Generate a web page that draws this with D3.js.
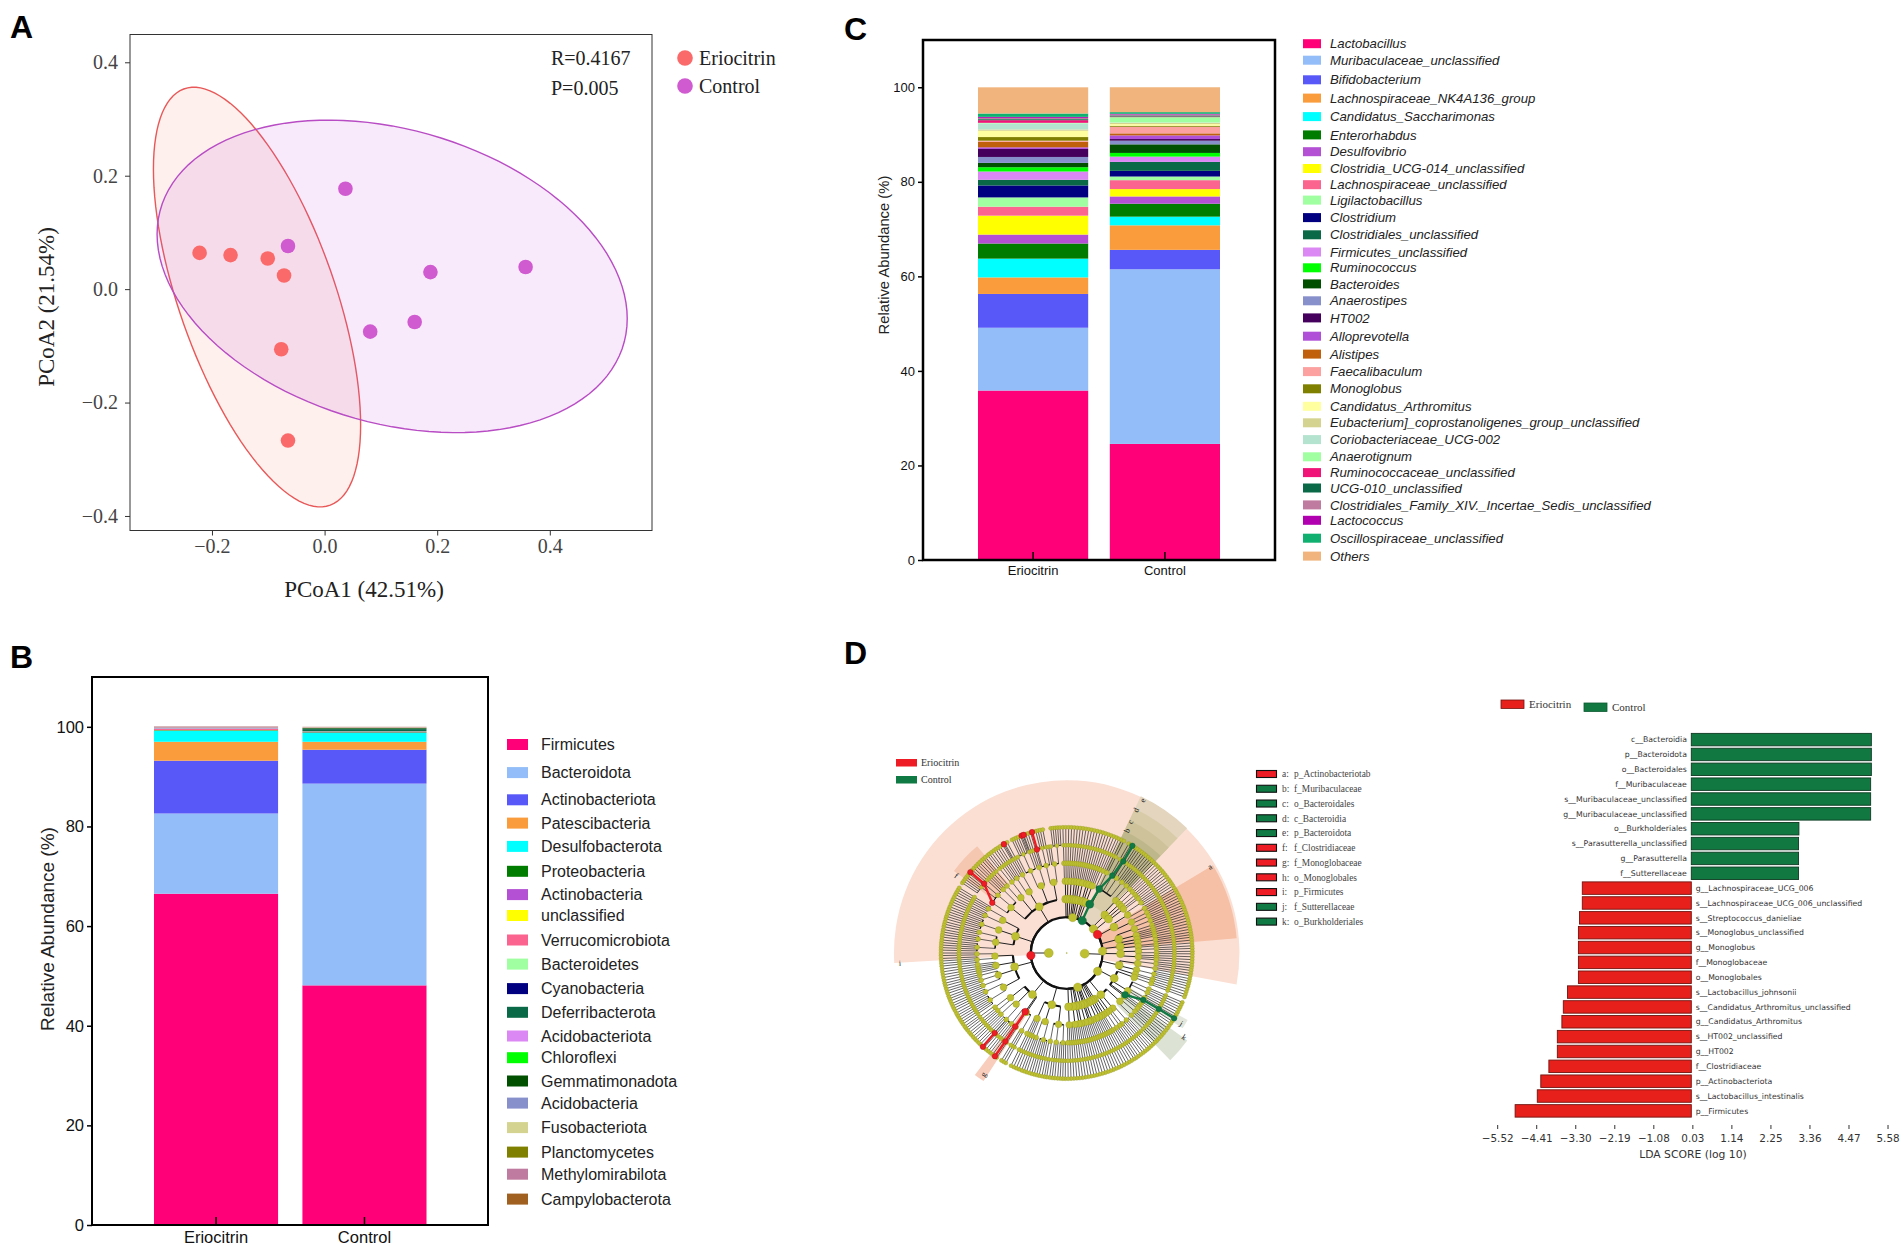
<!DOCTYPE html>
<html>
<head>
<meta charset="utf-8">
<script src="https://cdn.jsdelivr.net/npm/d3@7/dist/d3.min.js"></script>
<style>
html,body{margin:0;padding:0;background:#fff}
svg{display:block}
</style>
</head>
<body>
<svg id="fig" width="1904" height="1246"></svg>
<script>
// ---------- Panel A data ----------
const pcoaGroups = ["Eriocitrin", "Control"];
const eriocitrinPoints = [[-0.222,0.064],[-0.167,0.060],[-0.101,0.054],[-0.072,0.024],[-0.077,-0.106],[-0.065,-0.267]];
const controlPoints = [[0.037,0.177],[-0.065,0.076],[0.188,0.030],[0.357,0.039],[0.160,-0.058],[0.081,-0.075]];
// centre x, centre y, half width, half height, correlation
const eriocitrinEllipse = [-0.120,-0.014,0.184,0.370,-0.61];
const controlEllipse = [0.120,0.0225,0.4175,0.2755,-0.27];
const pcoaTicks = [-0.4,-0.2,0,0.2,0.4];
const pcoaXTicks = [-0.2,0,0.2,0.4];

// ---------- Panel B data ----------
const barCategories = ["Eriocitrin", "Control"];
const abundanceTicks = [0,20,40,60,80,100];
const phylumNames = ["Firmicutes","Bacteroidota","Actinobacteriota","Patescibacteria","Desulfobacterota","Proteobacteria","Actinobacteria","unclassified","Verrucomicrobiota","Bacteroidetes","Cyanobacteria","Deferribacterota","Acidobacteriota","Chloroflexi","Gemmatimonadota","Acidobacteria","Fusobacteriota","Planctomycetes","Methylomirabilota","Campylobacterota"];
const phylumEriocitrin = [66.5,16.1,10.6,3.8,2.2,0.1,0.03,0.03,0.2,0.03,0.03,0.03,0.1,0.02,0.02,0.02,0.02,0.02,0.2,0.03];
const phylumControl = [48.1,40.5,6.8,1.6,1.8,0.1,0.05,0.05,0.05,0.05,0.05,0.4,0.02,0.02,0.15,0.02,0.1,0.02,0.1,0.02];
const phylumColors = ["#ff0078","#92bdf8","#5858f8","#fb9c3c","#00ffff","#007c00","#b450d4","#ffff00","#fc6490","#a0ffa0","#000080","#0a6a48","#dc88f4","#00ff00","#005000","#8890cc","#d4d490","#808000","#c07ca0","#a06020"];

// ---------- Panel C data ----------
const genusNames = ["Lactobacillus","Muribaculaceae_unclassified","Bifidobacterium","Lachnospiraceae_NK4A136_group","Candidatus_Saccharimonas","Enterorhabdus","Desulfovibrio","Clostridia_UCG-014_unclassified","Lachnospiraceae_unclassified","Ligilactobacillus","Clostridium","Clostridiales_unclassified","Firmicutes_unclassified","Ruminococcus","Bacteroides","Anaerostipes","HT002","Alloprevotella","Alistipes","Faecalibaculum","Monoglobus","Candidatus_Arthromitus","Eubacterium]_coprostanoligenes_group_unclassified","Coriobacteriaceae_UCG-002","Anaerotignum","Ruminococcaceae_unclassified","UCG-010_unclassified","Clostridiales_Family_XIV._Incertae_Sedis_unclassified","Lactococcus","Oscillospiraceae_unclassified","Others"];
const genusEriocitrin = [35.85,13.28,7.15,3.5,3.97,3.2,1.89,4.0,1.9,1.96,2.53,1.19,1.76,0.91,0.91,1.26,1.69,0.35,1.19,0.21,0.77,1.33,0.28,1.26,0.14,0.56,0.21,0.28,0.21,0.71,5.54];
const genusControl = [24.56,36.94,4.11,5.19,1.83,2.74,1.54,1.55,1.89,0.77,1.2,1.89,1.12,0.78,1.82,0.77,0.35,0.77,0.43,1.4,0.21,0.35,0.28,0.07,1.12,0.14,0.22,0.21,0.14,0.35,5.26];
const genusColors = ["#ff0078","#92bdf8","#5858f8","#fb9c3c","#00ffff","#007c00","#b450d4","#ffff00","#fc6490","#a0ffa0","#000080","#0a6a48","#dc88f4","#00ff00","#005000","#8890cc","#44005c","#b050d8","#c0600c","#fca0a0","#808000","#ffffa0","#d4d490","#b4e4d0","#a0ffa0","#f01478","#0a6a48","#c07ca0","#b000b0","#10b070","#f0b47c"];

// ---------- Panel D: LDA data ----------
const ldaNames = ["c__Bacteroidia","p__Bacteroidota","o__Bacteroidales","f__Muribaculaceae","s__Muribaculaceae_unclassified","g__Muribaculaceae_unclassified","o__Burkholderiales","s__Parasutterella_unclassified","g__Parasutterella","f__Sutterellaceae","g__Lachnospiraceae_UCG_006","s__Lachnospiraceae_UCG_006_unclassified","s__Streptococcus_danieliae","s__Monoglobus_unclassified","g__Monoglobus","f__Monoglobaceae","o__Monoglobales","s__Lactobacillus_johnsonii","s__Candidatus_Arthromitus_unclassified","g__Candidatus_Arthromitus","s__HT002_unclassified","g__HT002","f__Clostridiaceae","p__Actinobacteriota","s__Lactobacillus_intestinalis","p__Firmicutes"];
const ldaScores = [5.12,5.12,5.12,5.10,5.10,5.10,3.06,3.05,3.05,3.05,-3.10,-3.10,-3.18,-3.21,-3.21,-3.21,-3.21,-3.52,-3.64,-3.68,-3.81,-3.81,-4.05,-4.28,-4.38,-5.01];
const ldaTicks = [-5.52,-4.41,-3.30,-2.19,-1.08,0.03,1.14,2.25,3.36,4.47,5.58];

// ---------- Panel D: cladogram data ----------
const cladeKeyLetters = ["a:","b:","c:","d:","e:","f:","g:","h:","i:","j:","k:"];
const cladeKeyNames = ["p_Actinobacteriotab","f_Muribaculaceae","o_Bacteroidales","c_Bacteroidia","p_Bacteroidota","f_Clostridiaceae","f_Monoglobaceae","o_Monoglobales","p_Firmicutes","f_Sutterellaceae","o_Burkholderiales"];
const cladeKeyGroups = [0,1,1,1,1,0,0,0,0,1,1];
const named = (id,...kids)=>({id,kids});
const chain = (...ids)=>ids.reduceRight((kid,id)=>({id,kids:kid?[kid]:[]}),null);
// nesting: phylum > class > order > family > genus > species; a number n stands for n branches running out to the species ring
const phylumFirmicutes = named("p_Firmicutes",
  [[4,3,[2,1]],[5,[1,1,1]],4],
  [chain("o_Monoglobales","f_Monoglobaceae","g_Monoglobus","s_Monoglobus_unclassified"),[3,[chain("g_Lachnospiraceae_UCG_006","s_Lachnospiraceae_UCG_006_unclassified"),1,1,1],2],[5,3],[2,[1,2]]],
  [[6,4],[3,3,[1,1]],5,[4,2]],
  [[5,4,3],[6],[4,4]],
  [[chain("f_Clostridiaceae","g_Clostridium","s_Clostridium"),[8,1],[1,1,1]],[[1,2],[2,1]],[4,3],[[named("g_Lactobacillus",chain("s_Lactobacillus_intestinalis")),5,1],3],[[chain("g_Candidatus_Arthromitus","s_Candidatus_Arthromitus_unclassified"),3,1],[named("g_HT002",chain("s_HT002_unclassified")),named("g_Streptococcus",chain("s_Streptococcus_danieliae")),5]]]
);
const phylumTop = [[2],[1],[3],[1],[2],[1],[3],[2],[1],[3]];
const phylumBacteroidota = named("p_Bacteroidota",named("c_Bacteroidia",named("o_Bacteroidales",2,[1,1],named("f_Muribaculaceae",chain("g_Muribaculaceae_unclassified","s_Muribaculaceae_unclassified"),1,1),[1,2,1],3)));
const phylumUpperRight = [[[3,[1,1]],[2]],[[2],2]];
const phylumActinobacteriota = named("p_Actinobacteriota",[[4,3],[2,2]],[[3,2],4,1]);
const phylumRight = [[[3],2],[[2,2],3]];
const phylumProteobacteria = [[[3,2],[4],2],[[2],named("o_Burkholderiales",chain("f_Sutterellaceae","g_Parasutterella","s_Parasutterella_unclassified"),2,[1,1]),[4,2],3],[[3,[1,2]],[4,2],1,[3]]];
const phylumBottom = [[1],[2],[1],[3],[2],[1],[1],[3],[2],[1],[4],[3]];
// clade id, clock angle, group (0 Eriocitrin, 1 Control, -1 not enriched)
const cladePins = [
  ["k_left",270,-1],["k_right",92,-1],
  ["p_Firmicutes",266,0],["p_Actinobacteriota",59,0],
  ["f_Clostridiaceae",304,0],["g_Clostridium",310,0],["s_Clostridium",310,0],
  ["g_Candidatus_Arthromitus",344,0],["s_Candidatus_Arthromitus_unclassified",344,0],
  ["s_HT002_unclassified",339,0],["s_Streptococcus_danieliae",340,0],["s_Lactobacillus_intestinalis",330,0],
  ["o_Monoglobales",215.2,0],["f_Monoglobaceae",215,0],["g_Monoglobus",214.8,0],["s_Monoglobus_unclassified",214.8,0],
  ["g_Lachnospiraceae_UCG_006",222,0],["s_Lachnospiraceae_UCG_006_unclassified",221.8,0],
  ["p_Bacteroidota",25.6,1],["c_Bacteroidia",25.3,1],["o_Bacteroidales",27,1],["f_Muribaculaceae",30.5,1],["g_Muribaculaceae_unclassified",31.7,1],["s_Muribaculaceae_unclassified",31.5,1],
  ["o_Burkholderiales",125.6,1],["f_Sutterellaceae",121.5,1],["g_Parasutterella",121.3,1],["s_Parasutterella_unclassified",121.3,1]
];
// shaded clade sectors: letter, start, end (clock degrees), inner and outer ring, fill, label ring, label angle
const cladeSectors = [
  ["i",266.7,460.5,2,9.62,"#fbdfd3",9.3,266.4],
  ["a",59,85,2,9.5,"#f5c0a6",9.3,59],
  ["e",25.3,44,2,9.65,"#e3d5be",9.5,26.5],
  ["d",25.3,44,3,8.88,"#d8cba8",8.85,25.9],
  ["c",25.3,44,4,8.17,"#cdc29a",8.13,25.9],
  ["b",25.3,44,5,7.52,"#bfb78c",7.6,26.3],
  ["f",306,320,5,7.76,"#f5c6b0",7.5,305],
  ["g",213,217,4,8.5,"#f9cdbb",8.2,214.4],
  ["k",126,136,4,8.3,"#dce3d4",8.05,125.7],
  ["j",119,123,4,7.7,"#e4e8dc",7.5,121.7]
];

// ---------- Layout ----------
const legendRowsB = [744.5,772.6,799.8,823.1,846.4,871.3,894.6,915.5,940,964.1,988.6,1012.3,1036,1057.7,1081,1103.1,1127.6,1152.1,1174.2,1199.1];
const legendRowsC = [43.7,60.2,79.8,98.1,116.6,134.9,151.7,168.5,184.7,200.1,217.6,234.8,252,267.8,283.9,300.8,317.9,336.2,354.1,371.6,388.8,406.3,422.8,439.6,456.8,472.6,488,504.9,520.3,538.2,556.1];
const svg = d3.select("#fig");
const serif = "'Liberation Serif','Times New Roman',serif";
const sans = "'Liberation Sans',Arial,sans-serif";
const dejavu = "'DejaVu Sans',sans-serif";
svg.append("rect").attr("width",1904).attr("height",1246).attr("fill","#fff");

[["A",10,38],["B",10,668],["C",844,40],["D",844,664]].forEach(([t,x,y])=>{
  svg.append("text").text(t).attr("x",x).attr("y",y).attr("font-family",sans).attr("font-weight","bold").attr("font-size",32).attr("fill","#000");
});

// ---------- Panel A ----------
(function(){
  const L=130,R=652,T=34.5,B=530.5;
  const x=d3.scaleLinear().domain([-0.3456,0.5815]).range([L,R]);
  const y=d3.scaleLinear().domain([-0.4256,0.449]).range([B,T]);
  const g=svg.append("g");
  const colors=["#fb6a6a","#d05ad0"], strokes=["#e85858","#b84cc4"], fills=["rgba(240,110,80,0.10)","rgba(200,80,215,0.12)"];
  const line=d3.line().x(d=>x(d[0])).y(d=>y(d[1])).curve(d3.curveLinearClosed);
  [eriocitrinEllipse,controlEllipse].forEach((e,i)=>{
    const phi=Math.acos(e[4]);
    const outline=d3.range(0,360,3).map(a=>{const t=a*Math.PI/180;return [e[0]+e[2]*Math.cos(t),e[1]+e[3]*Math.cos(t+phi)];});
    g.append("path").attr("d",line(outline)).attr("fill",fills[i]).attr("stroke",strokes[i]).attr("stroke-width",1.4);
  });
  [eriocitrinPoints,controlPoints].forEach((pts,i)=>{
    g.selectAll(null).data(pts).enter().append("circle").attr("cx",d=>x(d[0])).attr("cy",d=>y(d[1])).attr("r",7.3).attr("fill",colors[i]);
  });
  g.append("rect").attr("x",L).attr("y",T).attr("width",R-L).attr("height",B-T).attr("fill","none").attr("stroke","#333").attr("stroke-width",1);
  const ax=g.append("g").attr("transform",`translate(0,${B})`).call(d3.axisBottom(x).tickValues(pcoaXTicks).tickFormat(d3.format(".1f")).tickSize(5).tickPadding(3));
  const ay=g.append("g").attr("transform",`translate(${L},0)`).call(d3.axisLeft(y).tickValues(pcoaTicks).tickFormat(d3.format(".1f")).tickSize(5).tickPadding(7));
  [ax,ay].forEach(a=>{a.select(".domain").remove();a.selectAll("text").attr("font-family",serif).attr("font-size",20).attr("fill","#444");a.selectAll("line").attr("stroke","#333");});
  g.append("text").text("PCoA1 (42.51%)").attr("x",364).attr("y",596.5).attr("text-anchor","middle").attr("font-family",serif).attr("font-size",23).attr("fill","#222");
  g.append("text").text("PCoA2 (21.54%)").attr("transform","translate(54,307) rotate(-90)").attr("text-anchor","middle").attr("font-family",serif).attr("font-size",23).attr("fill","#222");
  g.append("text").text("R=0.4167").attr("x",551).attr("y",65).attr("font-family",serif).attr("font-size",20).attr("fill","#222");
  g.append("text").text("P=0.005").attr("x",551).attr("y",95).attr("font-family",serif).attr("font-size",20).attr("fill","#222");
  const ly=d3.scalePoint().domain(pcoaGroups).range([58,86]);
  pcoaGroups.forEach((n,i)=>{
    g.append("circle").attr("cx",685).attr("cy",ly(n)).attr("r",7.8).attr("fill",colors[i]);
    g.append("text").text(n).attr("x",699).attr("y",ly(n)+6.5).attr("font-family",serif).attr("font-size",20).attr("fill","#222");
  });
})();

// ---------- Stacked bars (panels B, C) ----------
function stacked(o){
  const x=d3.scaleBand().domain(barCategories).range([o.barL,o.barR]).paddingInner(0.164);
  const y=d3.scaleLinear().domain([0,110]).range([o.B,o.T]);
  const rows=barCategories.map((c,j)=>{const r={category:c};o.names.forEach((n,i)=>{r[n]=o.values[j][i];});return r;});
  const layers=d3.stack().keys(o.names)(rows);
  const g=svg.append("g");
  g.selectAll("g.layer").data(layers).enter().append("g").attr("fill",(d,i)=>o.colors[i])
    .selectAll("rect").data(d=>d).enter().append("rect")
    .attr("x",d=>x(d.data.category)).attr("width",x.bandwidth())
    .attr("y",d=>y(d[1])).attr("height",d=>Math.max(0,y(d[0])-y(d[1])));
  g.append("rect").attr("x",o.L).attr("y",o.T).attr("width",o.R-o.L).attr("height",o.B-o.T).attr("fill","none").attr("stroke","#000").attr("stroke-width",o.frame);
  const ay=g.append("g").attr("transform",`translate(${o.L},0)`).call(d3.axisLeft(y).tickValues(abundanceTicks).tickSize(5).tickPadding(3));
  const ax=g.append("g").attr("transform",`translate(0,${o.B})`).call(d3.axisBottom(x).tickSize(-8).tickPadding(o.xPad));
  [ax,ay].forEach(a=>{a.select(".domain").remove();a.selectAll("line").attr("stroke","#000").attr("stroke-width",1.5);a.selectAll("text").attr("font-family",sans).attr("font-size",o.tickFont).attr("fill","#111");});
  g.append("text").text("Relative Abundance (%)").attr("transform",`translate(${o.yLabelX},${o.yLabelY}) rotate(-90)`).attr("text-anchor","middle").attr("font-family",sans).attr("font-size",o.yLabelFont).attr("fill","#222");
  const ly=d3.scaleOrdinal().domain(o.names).range(o.rows);
  o.names.forEach((n,i)=>{
    g.append("rect").attr("x",o.swX).attr("y",ly(n)-o.swH/2).attr("width",o.swW).attr("height",o.swH).attr("fill",o.colors[i]);
    g.append("text").text(n).attr("x",o.txtX).attr("y",ly(n)).attr("dy","0.35em").attr("font-family",sans).attr("font-size",o.legFont).attr("font-style",o.italic?"italic":"normal").attr("fill","#222");
  });
}
stacked({names:phylumNames,values:[phylumEriocitrin,phylumControl],colors:phylumColors,L:92,R:488,T:677,B:1225,barL:154,barR:426.5,frame:2,xPad:6,tickFont:16.5,yLabelX:54,yLabelY:929,yLabelFont:19,rows:legendRowsB,swX:507,swW:21,swH:11,txtX:541,legFont:16,italic:false});
stacked({names:genusNames,values:[genusEriocitrin,genusControl],colors:genusColors,L:923,R:1275,T:40,B:560,barL:978,barR:1220,frame:2.5,xPad:5.5,tickFont:13,yLabelX:889,yLabelY:255,yLabelFont:14.8,rows:legendRowsC,swX:1303,swW:18,swH:9,txtX:1330,legFont:13.2,italic:true});

// ---------- Panel D: LDA ----------
(function(){
  const x=d3.scaleLinear().domain([-6,6]).range([1480.3,1902.3]);
  const y=d3.scaleBand().domain(ldaNames).range([731,1119.5]).padding(0.16);
  const g=svg.append("g");
  const groupColor=v=>v<0?"#e8201c":"#107840", groupEdge=v=>v<0?"#701410":"#0e3a22";
  g.selectAll(null).data(ldaNames).enter().append("rect")
    .attr("x",(d,i)=>x(Math.min(0,ldaScores[i]))).attr("y",d=>y(d))
    .attr("width",(d,i)=>Math.abs(x(ldaScores[i])-x(0))).attr("height",y.bandwidth())
    .attr("fill",(d,i)=>groupColor(ldaScores[i])).attr("stroke",(d,i)=>groupEdge(ldaScores[i])).attr("stroke-width",0.9);
  g.selectAll(null).data(ldaNames).enter().append("text").text(d=>d)
    .attr("x",(d,i)=>ldaScores[i]<0?x(0)+4.4:x(0)-4.4).attr("y",d=>y(d)+y.bandwidth()/2).attr("dy","0.35em")
    .attr("text-anchor",(d,i)=>ldaScores[i]<0?"start":"end").attr("font-family",dejavu).attr("font-size",7.76).attr("fill","#333");
  const ax=g.append("g").attr("transform","translate(0,1129)").call(d3.axisBottom(x).tickValues(ldaTicks).tickFormat(d3.format(".2f")).tickSize(-4).tickPadding(6));
  ax.select(".domain").remove();
  ax.selectAll("line").attr("stroke","#333");
  ax.selectAll("text").attr("font-family",dejavu).attr("font-size",10.4).attr("fill","#333");
  g.append("text").text("LDA SCORE (log 10)").attr("x",1693).attr("y",1158).attr("text-anchor","middle").attr("font-family",dejavu).attr("font-size",10.8).attr("fill","#333");
  [["Eriocitrin",1501,700,"#e8201c","#701410",1529],["Control",1584,703,"#107840","#0e5a32",1612]].forEach(([t,sx,sy,f,e,tx])=>{
    g.append("rect").attr("x",sx).attr("y",sy).attr("width",23).attr("height",8.5).attr("fill",f).attr("stroke",e).attr("stroke-width",0.8);
    g.append("text").text(t).attr("x",tx).attr("y",sy+8).attr("font-family",serif).attr("font-size",11).attr("fill","#333");
  });
})();

// ---------- Panel D: cladogram ----------
(function(){
  const cx=1066.7, cy=953;
  const r=d3.scaleLinear().domain([0,7]).range([0,125.7]);
  const rad=d3.scaleLinear().domain([0,360]).range([0,2*Math.PI]);
  const groupFill=["#ee1c25","#107a45"];
  const toNode=(item,depth)=>{
    if(typeof item==="number"){
      if(depth>=6) return {children:d3.range(item).map(()=>({}))};
      return {children:d3.range(item).map(()=>toNode(1,depth+1))};
    }
    if(Array.isArray(item)) return {children:item.map(k=>toNode(k,depth+1))};
    return {id:item.id,children:item.kids.map(k=>toNode(k,depth+1))};
  };
  const rootData={children:[
    {id:"k_left",children:[toNode(phylumFirmicutes,2)]},
    {id:"k_right",children:[phylumTop,phylumBacteroidota,phylumUpperRight,phylumActinobacteriota,phylumRight,phylumProteobacteria,phylumBottom].map(p=>toNode(p,2))}
  ]};
  const root=d3.hierarchy(rootData,d=>d.children&&d.children.length?d.children:null);
  d3.cluster().size([360,1]).separation((a,b)=>a.parent===b.parent?1:(a.parent.parent===b.parent.parent?1.1:1.25))(root);
  const pins=new Map(cladePins.map(p=>[p[0],p]));
  const nodes=root.descendants();
  nodes.forEach(n=>{
    n.deg=n.x+180;
    const p=pins.get(n.data.id);
    n.group=-1;
    if(p){n.deg=p[1]<180?p[1]+360:p[1];n.group=p[2];}
  });
  const g=svg.append("g").attr("transform",`translate(${cx},${cy})`);
  const polar=(deg,ring)=>d3.pointRadial(rad(deg),r(ring));
  // shaded sectors
  const arc=d3.arc();
  cladeSectors.forEach(s=>{
    g.append("path").attr("d",arc({innerRadius:r(s[3]),outerRadius:r(s[4]),startAngle:rad(s[1]),endAngle:rad(s[2])})).attr("fill",s[5]);
  });
  // backbone ring
  const widths=[0,1,2.2,2.1,1.6,1,0.5,0.4];
  g.append("path").attr("d",arc({innerRadius:r(2),outerRadius:r(2),startAngle:0,endAngle:2*Math.PI})).attr("fill","none").attr("stroke","#111").attr("stroke-width",widths[2]);
  // arcs on each parent's ring
  nodes.filter(n=>n.depth>=2&&n.children).forEach(n=>{
    const a=n.children.map(c=>c.deg).concat([n.deg]);
    g.append("path").attr("d",arc({innerRadius:r(n.depth),outerRadius:r(n.depth),startAngle:rad(d3.min(a)),endAngle:rad(d3.max(a))})).attr("fill","none").attr("stroke","#111").attr("stroke-width",widths[n.depth]);
  });
  // radial branches
  const radial=d3.lineRadial().angle(d=>rad(d[0])).radius(d=>r(d[1]));
  nodes.filter(n=>n.depth>=3).forEach(n=>{
    g.append("path").attr("d",radial([[n.deg,n.depth-1],[n.deg,n.depth]])).attr("fill","none").attr("stroke","#222").attr("stroke-width",n.depth>=5?0.7:1);
  });
  nodes.filter(n=>n.depth===1).forEach(n=>{
    g.append("path").attr("d",radial([[n.deg,1],[n.deg,2]])).attr("fill","none").attr("stroke","#111").attr("stroke-width",0.9);
  });
  // coloured branches
  nodes.filter(n=>n.group>=0&&n.parent&&n.parent.group>=0&&n.depth>=3).forEach(n=>{
    const a=polar(n.parent.deg,n.parent.depth),b=polar(n.deg,n.depth);
    g.append("line").attr("x1",a[0]).attr("y1",a[1]).attr("x2",b[0]).attr("y2",b[1]).attr("stroke",groupFill[n.group]).attr("stroke-width",2.4);
  });
  // nodes
  const sizes=[0.6,4.5,4.2,4,3.4,2.5,2.05,2.05];
  const place=sel=>sel.attr("cx",n=>polar(n.deg,n.depth)[0]).attr("cy",n=>polar(n.deg,n.depth)[1]).attr("r",n=>n.group>=0?Math.max(sizes[n.depth],2.8):sizes[n.depth]);
  g.selectAll("circle.plain").data(nodes.filter(n=>n.group<0)).enter().append("circle").call(place)
    .attr("fill","#bec032").attr("stroke","#8c8e1a").attr("stroke-width",0.3);
  g.selectAll("circle.hit").data(nodes.filter(n=>n.group>=0)).enter().append("circle").call(place)
    .attr("fill",n=>groupFill[n.group]).attr("stroke",n=>n.group?"#0c5a34":"#a01018").attr("stroke-width",0.4);
  // sector letters
  cladeSectors.forEach(s=>{
    const p=polar(s[7],s[6]);
    const up=s[7]>180?s[7]+90:s[7]-90;
    g.append("text").text(s[0]).attr("transform",`translate(${p[0]},${p[1]}) rotate(${up})`).attr("text-anchor","middle").attr("dy","0.32em").attr("font-family",serif).attr("font-size",8).attr("fill","#222");
  });
  // legends
  [["Eriocitrin",groupFill[0],759],["Control",groupFill[1],776]].forEach(([t,f,y])=>{
    svg.append("rect").attr("x",896).attr("y",y).attr("width",21).attr("height",7.5).attr("fill",f);
    svg.append("text").text(t).attr("x",921).attr("y",y+7).attr("font-family",serif).attr("font-size",10).attr("fill","#333");
  });
  const ky=d3.scalePoint().domain(cladeKeyNames).range([774,921.6]);
  cladeKeyNames.forEach((n,i)=>{
    svg.append("rect").attr("x",1256.5).attr("y",ky(n)-3.5).attr("width",20).attr("height",7).attr("fill",groupFill[cladeKeyGroups[i]]).attr("stroke","#111").attr("stroke-width",1.1);
    svg.append("text").text(cladeKeyLetters[i]).attr("x",1282).attr("y",ky(n)).attr("dy","0.35em").attr("font-family",serif).attr("font-size",9.4).attr("fill","#444");
    svg.append("text").text(n).attr("x",1294).attr("y",ky(n)).attr("dy","0.35em").attr("font-family",serif).attr("font-size",9.4).attr("fill","#444");
  });
})();
</script>
</body>
</html>
